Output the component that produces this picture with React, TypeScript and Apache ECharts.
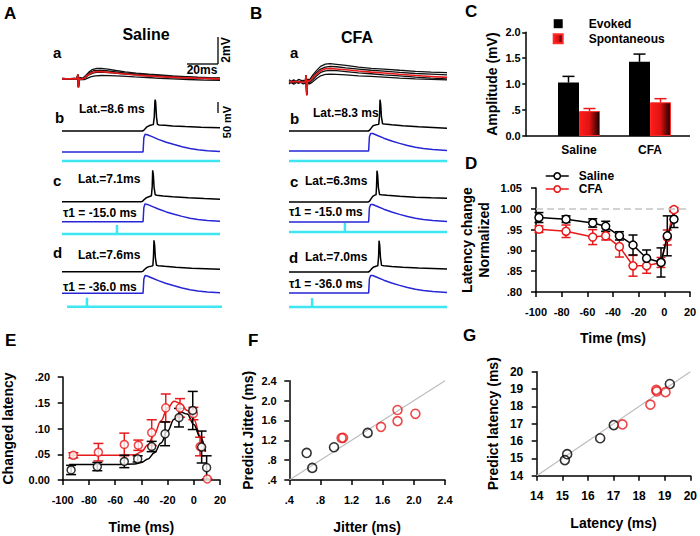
import React, { useEffect, useRef } from "react";
import * as echarts from "echarts";

const FONT = '"Liberation Sans", Arial, Helvetica, sans-serif';
const RED = "#e8191b";
const BLUE = "#2626d6";
const CYAN = "#3ee6f2";

// ---------- Panel C : amplitude ----------
const groupNames = ["Saline", "CFA"];
const evokedMean = [1.03, 1.43];
const evokedSem = [0.12, 0.15];
const spontMean = [0.48, 0.65];
const spontSem = [0.05, 0.07];

// ---------- Panel D : normalized latency change ----------
const dTime = [-97.7, -76.6, -55.8, -45.7, -35, -24.4, -13.8, -2.6, 2.3, 7.5];
const dSaline = [0.979, 0.975, 0.966, 0.958, 0.935, 0.913, 0.881, 0.871, 0.935, 0.975];
const dSalineErr = [0.012, 0.008, 0.01, 0.012, 0.01, 0.024, 0.02, 0.035, 0.048, 0.02];
const dCfa = [0.951, 0.946, 0.932, 0.935, 0.909, 0.863, 0.863, 0.871, 0.931, 0.998];
const dCfaErr = [0.008, 0.015, 0.018, 0.01, 0.025, 0.025, 0.018, 0.012, 0.018, 0.005];

// ---------- Panel E : changed latency ----------
const eTimeSaline = [-93.6, -73.6, -53, -42.8, -32.1, -21.9, -11.3, -0.8, 6, 9.8];
const eSaline = [0.0195, 0.026, 0.036, 0.041, 0.065, 0.0896, 0.121, 0.135, 0.064, 0.024];
const eSalineErr = [0.009, 0.008, 0.012, 0.006, 0.01, 0.023, 0.018, 0.037, 0.031, 0.023];
const eTimeCfa = [-91.9, -72.8, -53, -42.3, -32.1, -21.4, -10.5, -0.3, 4.8, 10.3];
const eCfa = [0.048, 0.054, 0.069, 0.0675, 0.092, 0.14, 0.14, 0.129, 0.065, 0.002];
const eCfaErr = [0.005, 0.017, 0.022, 0.01, 0.025, 0.027, 0.018, 0.012, 0.018, 0];
const eFitTimeSaline = [-95, -60, -45, -40, -35, -30, -25, -20, -15, -10, -5, 0, 5, 9];
const eFitSaline = [0.03, 0.03, 0.031, 0.034, 0.041, 0.053, 0.072, 0.095, 0.118, 0.132, 0.128, 0.108, 0.082, 0.055];
const eFitTimeCfa = [-95, -60, -45, -40, -35, -30, -25, -20, -15, -10, -5, 0, 5, 8.5];
const eFitCfa = [0.048, 0.048, 0.049, 0.055, 0.068, 0.09, 0.115, 0.14, 0.153, 0.148, 0.135, 0.118, 0.085, 0.055];

// ---------- Panel F : jitter ----------
const fJitterSaline = [0.623, 0.695, 0.974, 1.406];
const fPredSaline = [0.945, 0.644, 1.06, 1.349];
const fJitterCfa = [1.072, 1.09, 1.578, 1.79, 1.79, 2.02];
const fPredCfa = [1.246, 1.25, 1.47, 1.81, 1.586, 1.733];
const fIdentity = [0.4, 2.4];

// ---------- Panel G : latency ----------
const gLatSaline = [15.1, 15.19, 16.48, 17.01, 19.2];
const gPredSaline = [14.9, 15.24, 16.16, 16.92, 19.29];
const gLatCfa = [17.35, 18.44, 18.67, 18.69, 19.03];
const gPredCfa = [16.96, 18.1, 18.95, 18.86, 18.82];
const gIdentity = [14, 20];

// ---------- Panels A/B : traces, [time ms, value] ----------
// a rows : EPSPs (mV above baseline)
const salineEpspAvg = [[0,0],[9.5,0],[10,0.35],[10.4,-0.65],[10.9,0.05],[12,-0.05],[14,0.05],[16,0.25],[18,0.42],[21,0.53],[24,0.55],[28,0.5],[35,0.42],[45,0.3],[55,0.22],[65,0.15],[75,0.09],[85,0.05],[100,0]];
const salineEpsp1 = [[0,0.05],[4,0],[8,0.06],[9.5,0.02],[10,0.3],[10.4,-0.6],[11,0.1],[13,0.05],[15,0.25],[17,0.5],[19,0.68],[22,0.78],[25,0.78],[29,0.72],[34,0.62],[40,0.52],[47,0.43],[55,0.35],[62,0.3],[70,0.22],[78,0.17],[86,0.12],[93,0.09],[100,0.07]];
const salineEpsp2 = [[0,-0.04],[5,0.02],[9.5,-0.02],[10,0.32],[10.4,-0.62],[11,0.02],[13,-0.03],[15,0.1],[17,0.3],[20,0.45],[23,0.5],[27,0.48],[32,0.44],[40,0.36],[48,0.3],[56,0.2],[64,0.14],[72,0.1],[80,0.05],[90,0.02],[100,-0.03]];
const salineEpsp3 = [[0,0.02],[6,-0.03],[9.5,0],[10,0.3],[10.4,-0.6],[11,-0.04],[14,-0.06],[16,0.04],[18,0.14],[21,0.22],[25,0.25],[30,0.24],[38,0.2],[46,0.14],[54,0.1],[62,0.04],[70,0],[80,-0.05],[90,-0.1],[100,-0.12]];
const salineEpsp4 = [[0,-0.02],[9.5,0.01],[10,0.33],[10.4,-0.63],[11,0.06],[13,0],[15,0.18],[17,0.42],[20,0.6],[24,0.64],[28,0.6],[34,0.52],[42,0.4],[50,0.33],[58,0.27],[66,0.2],[76,0.14],[86,0.08],[100,0.04]];
const cfaEpspAvg = [[0,0],[4,0.03],[8,-0.02],[10.3,0],[10.8,0.5],[11.2,-1],[11.8,0.1],[13,0.05],[15,0.3],[17.5,0.6],[20,0.82],[23,0.97],[26,1],[30,0.96],[36,0.9],[44,0.8],[52,0.72],[60,0.66],[70,0.56],[80,0.47],[90,0.4],[100,0.33]];
const cfaEpsp1 = [[0,0.15],[3,-0.1],[6,0.18],[9,0.05],[10.3,0.1],[10.8,0.5],[11.2,-1],[11.8,0.2],[13,0.15],[15,0.5],[17.5,0.85],[20,1.15],[23,1.32],[26,1.35],[30,1.3],[36,1.22],[44,1.1],[52,1],[60,0.95],[70,0.86],[80,0.78],[90,0.72],[100,0.68]];
const cfaEpsp2 = [[0,-0.15],[3,0.1],[6,-0.12],[9,0.08],[10.3,-0.05],[10.8,0.45],[11.2,-0.95],[11.8,0],[13,-0.05],[15,0.15],[17.5,0.45],[20,0.7],[23,0.82],[26,0.85],[30,0.83],[36,0.76],[44,0.66],[52,0.6],[60,0.52],[70,0.44],[80,0.35],[90,0.28],[100,0.22]];
const cfaEpsp3 = [[0,0.05],[3,-0.18],[6,0.05],[9,-0.15],[10.3,-0.1],[10.8,0.4],[11.2,-0.9],[11.8,-0.1],[13,-0.15],[15,0],[17.5,0.25],[20,0.45],[23,0.55],[26,0.58],[30,0.56],[36,0.52],[44,0.45],[52,0.4],[60,0.35],[70,0.28],[80,0.22],[90,0.18],[100,0.15]];
const cfaEpsp4 = [[0,-0.05],[3,0.15],[6,-0.08],[9,0.12],[10.3,0.02],[10.8,0.5],[11.2,-1],[11.8,0.12],[13,0.08],[15,0.35],[17.5,0.7],[20,0.95],[23,1.1],[26,1.15],[30,1.12],[36,1.04],[44,0.95],[52,0.86],[60,0.8],[70,0.7],[80,0.62],[90,0.58],[100,0.52]];
// model membrane potential (mV)
const salineVmB = [[0,-70],[50.8,-70],[51.6,-68],[52.5,-62],[53.5,-54],[55,-48],[56.5,-45],[57.8,-43],[58.4,-10],[58.8,55],[59,63],[59.3,50],[59.8,-10],[60.4,-42],[61.5,-44.5],[65,-46],[70,-48.5],[78,-51.5],[88,-54],[100,-56]];
const salineVmC = [[0,-70],[50.2,-70],[51,-68],[52,-61],[53.5,-53],[55,-49],[56.6,-45],[57.1,-5],[57.4,63],[57.8,45],[58.3,-10],[59,-41],[60,-42.5],[64,-45.5],[70,-49],[80,-53.5],[90,-57],[100,-60]];
const salineVmD = [[0,-70],[50.4,-70],[51.2,-68],[52.2,-61],[53.6,-53],[55,-48.5],[56.5,-46.5],[57.5,-45],[57.9,-5],[58.2,63],[58.6,45],[59.1,-10],[59.8,-43],[61,-44.5],[65,-47],[72,-51],[82,-55],[100,-60]];
const cfaVmB = [[0,-70],[50.2,-70],[51,-67],[52,-58],[53.2,-48],[55,-44],[56.8,-42],[57.3,-5],[57.6,63],[58,45],[58.5,-10],[59.2,-39],[60.5,-40.5],[65,-43.5],[72,-48],[82,-52.5],[100,-58]];
const cfaVmC = [[0,-70],[50.2,-70],[51,-66],[52,-56],[53,-46],[54.3,-41],[55.1,-39],[55.4,-5],[55.7,63],[56.1,45],[56.6,-10],[57.3,-38],[58.5,-39],[62,-41.5],[70,-45.5],[80,-49.5],[90,-52],[100,-54]];
const cfaVmD = [[0,-70],[50.2,-70],[51,-67],[52,-59],[53.3,-50],[55,-45.5],[56.2,-44],[56.7,-5],[57,63],[57.4,45],[57.9,-10],[58.6,-42],[60,-43.5],[65,-46.5],[72,-50],[82,-53.5],[100,-57]];
// model synaptic input (normalized)
const salineInput = [[0,0],[51.3,0],[51.8,0.8],[52.6,1],[54,0.97],[57,0.86],[61,0.71],[66,0.55],[71,0.42],[76,0.3],[81,0.2],[86,0.13],[92,0.07],[100,0.03]];
const cfaInput = [[0,0],[50.4,0],[50.9,0.8],[51.7,0.98],[53,0.98],[56,0.87],[60,0.72],[65,0.56],[70,0.43],[75,0.31],[80,0.21],[85,0.14],[91,0.08],[100,0.03]];
// conditioning stimulus markers
const stimNone = [[0,0],[100,0]];
const salineStimC = [[0,0],[34.8,0],[34.8,1],[34.8,0],[100,0]];
const salineStimD = [[3.2,0],[15.8,0],[15.8,1],[15.8,0],[101.9,0]];
const cfaStimC = [[0,0],[35.4,0],[35.4,1],[35.4,0],[100,0]];
const cfaStimD = [[0,0],[14.6,0],[14.6,1],[14.6,0],[100,0]];

const lab = (size: number) => ({ fontFamily: FONT, fontWeight: "bold", fontSize: size, color: "#000" });
const strip = (d: number) => (v: number) => {
  let s = Number(v).toFixed(d);
  if (s.startsWith("0.") && Number(s) !== 0) s = s.slice(1);
  return s;
};
const pairs = (xs: number[], ys: number[]) => xs.map((x, i) => [x, ys[i]]);
const errRows = (xs: number[], ys: number[], es: number[]) => xs.map((x, i) => [x, ys[i] - es[i], ys[i] + es[i]]);

function errorSeries(gi: number, rows: number[][], color: string, cap: number, dx: number, lowCap: boolean, z = 2) {
  return {
    type: "custom",
    xAxisIndex: gi,
    yAxisIndex: gi,
    data: rows,
    silent: true,
    z,
    clip: false,
    renderItem: (_p: any, api: any) => {
      const x = api.value(0);
      const a = api.coord([x, api.value(1)]);
      const b = api.coord([x, api.value(2)]);
      const cx = a[0] + dx;
      const st = { stroke: color, lineWidth: 1.5 };
      const children: any[] = [
        { type: "line", shape: { x1: cx, y1: a[1], x2: cx, y2: b[1] }, style: st },
        { type: "line", shape: { x1: cx - cap, y1: b[1], x2: cx + cap, y2: b[1] }, style: st },
      ];
      if (lowCap) children.push({ type: "line", shape: { x1: cx - cap, y1: a[1], x2: cx + cap, y2: a[1] }, style: st });
      return { type: "group", children };
    },
  };
}

function buildOption() {
  const grids: any[] = [];
  const xAxes: any[] = [];
  const yAxes: any[] = [];
  const series: any[] = [];
  const add = (g: any, x: any, y: any) => {
    const i = grids.length;
    grids.push(g);
    xAxes.push({ ...x, gridIndex: i });
    yAxes.push({ ...y, gridIndex: i });
    return i;
  };
  const axLine = { show: true, onZero: false, lineStyle: { color: "#000", width: 1.5 } };
  const axTick = (len: number) => ({ show: true, length: len, lineStyle: { color: "#000", width: 1.5 } });
  const noSplit = { show: false };
  const valAxis = (min: number, max: number, interval: number, fmt: any, size: number, margin: number, name: string, gap: number, extraName: any = {}) => ({
    type: "value", min, max, interval, axisLine: axLine, axisTick: axTick(5), splitLine: noSplit,
    axisLabel: { ...lab(size), margin, formatter: fmt },
    name, nameLocation: "middle", nameGap: gap, nameTextStyle: { ...lab(14), ...extraName },
  });

  // ----- C -----
  const gC = add(
    { left: 543.5, top: 32.3, width: 142, height: 103.7 },
    { type: "category", data: groupNames, axisLine: { show: false }, axisTick: { show: false }, axisLabel: { ...lab(12), margin: 8 } },
    { type: "value", min: 0, max: 2, interval: 0.5, offset: 17.8, axisLine: axLine, axisTick: axTick(3.5), splitLine: noSplit,
      axisLabel: { ...lab(11), margin: 5, formatter: strip(1) },
      name: "Amplitude (mV)", nameLocation: "middle", nameGap: 27, nameTextStyle: lab(14) }
  );
  series.push({ type: "bar", name: "Evoked", xAxisIndex: gC, yAxisIndex: gC, data: evokedMean, barWidth: 21, barGap: "0%", itemStyle: { color: "#000" }, z: 2 });
  series.push({
    type: "bar", name: "Spontaneous", xAxisIndex: gC, yAxisIndex: gC, data: spontMean, barWidth: 21, barGap: "0%", z: 2,
    itemStyle: {
      color: new echarts.graphic.LinearGradient(0, 0, 1, 0, [
        { offset: 0, color: "#ff1c1c" },
        { offset: 0.5, color: "#e01212" },
        { offset: 1, color: "#1a0000" },
      ]),
      borderColor: "#ff2a2a", borderWidth: 1,
    },
  });
  series.push(errorSeries(gC, groupNames.map((_, i) => [i, evokedMean[i], evokedMean[i] + evokedSem[i]]), "#000", 6, -10.5, false, 3));
  series.push(errorSeries(gC, groupNames.map((_, i) => [i, spontMean[i], spontMean[i] + spontSem[i]]), RED, 6, 10.5, false, 3));

  // ----- D -----
  const gD = add(
    { left: 536, top: 188, width: 154, height: 104 },
    valAxis(-100, 20, 20, (v: number) => String(v), 11, 14, "Time (ms)", 39),
    valAxis(0.8, 1.05, 0.05, strip(2), 11, 14, "Latency change\nNormalized", 44, { lineHeight: 17 })
  );
  series.push(errorSeries(gD, errRows(dTime, dCfa, dCfaErr), RED, 4.5, 0, true, 2));
  series.push(errorSeries(gD, errRows(dTime, dSaline, dSalineErr), "#000", 4.5, 0, true, 2));
  series.push({
    type: "line", name: "CFA", xAxisIndex: gD, yAxisIndex: gD, data: pairs(dTime, dCfa), z: 4,
    symbol: "circle", symbolSize: 8, lineStyle: { color: RED, width: 1.5 },
    itemStyle: { color: "#fff", borderColor: RED, borderWidth: 1.5 },
  });
  series.push({
    type: "line", name: "Saline", xAxisIndex: gD, yAxisIndex: gD, data: pairs(dTime, dSaline), z: 5,
    symbol: "circle", symbolSize: 8, lineStyle: { color: "#000", width: 1.5 },
    itemStyle: { color: "#fff", borderColor: "#000", borderWidth: 1.5 },
    markLine: { silent: true, symbol: "none", label: { show: false }, lineStyle: { color: "#c4c4c4", type: [7, 4], width: 1.5 }, data: [{ yAxis: 1 }] },
  });

  // ----- E -----
  const gE = add(
    { left: 62.7, top: 377, width: 157.3, height: 103 },
    valAxis(-100, 20, 20, (v: number) => String(v), 11, 14, "Time (ms)", 40),
    valAxis(0, 0.2, 0.05, strip(2), 11, 12.7, "Changed latency", 47.7)
  );
  series.push({ type: "line", name: "CFA fit", xAxisIndex: gE, yAxisIndex: gE, data: pairs(eFitTimeCfa, eFitCfa), symbol: "none", smooth: 0.4, smoothMonotone: "x", lineStyle: { color: RED, width: 1.5 }, z: 1 });
  series.push({ type: "line", name: "Saline fit", xAxisIndex: gE, yAxisIndex: gE, data: pairs(eFitTimeSaline, eFitSaline), symbol: "none", smooth: 0.4, smoothMonotone: "x", lineStyle: { color: "#000", width: 1.5 }, z: 1 });
  series.push(errorSeries(gE, errRows(eTimeCfa, eCfa, eCfaErr), RED, 5, 0, true, 2));
  series.push(errorSeries(gE, errRows(eTimeSaline, eSaline, eSalineErr), "#000", 5, 0, true, 2));
  series.push({ type: "scatter", name: "CFA E", xAxisIndex: gE, yAxisIndex: gE, data: pairs(eTimeCfa, eCfa), symbol: "circle", symbolSize: 8, itemStyle: { color: "#fff", borderColor: RED, borderWidth: 1.5 }, z: 4 });
  series.push({ type: "scatter", name: "Saline E", xAxisIndex: gE, yAxisIndex: gE, data: pairs(eTimeSaline, eSaline), symbol: "circle", symbolSize: 8, itemStyle: { color: "#fff", borderColor: "#000", borderWidth: 1.5 }, z: 5 });

  // ----- F -----
  const gF = add(
    { left: 289.3, top: 380.7, width: 155.7, height: 99.3 },
    valAxis(0.4, 2.4, 0.4, strip(1), 11, 14, "Jitter (ms)", 40),
    valAxis(0.4, 2.4, 0.4, strip(1), 11, 12.6, "Predict Jitter (ms)", 34)
  );
  series.push({ type: "line", name: "F identity", xAxisIndex: gF, yAxisIndex: gF, data: pairs(fIdentity, fIdentity), symbol: "none", lineStyle: { color: "#bdbdbd", width: 1.2 }, z: 1 });
  series.push({ type: "scatter", name: "Saline F", xAxisIndex: gF, yAxisIndex: gF, data: pairs(fJitterSaline, fPredSaline), symbol: "circle", symbolSize: 9, itemStyle: { color: "rgba(255,255,255,0)", borderColor: "#000", borderWidth: 1.6 }, z: 3 });
  series.push({ type: "scatter", name: "CFA F", xAxisIndex: gF, yAxisIndex: gF, data: pairs(fJitterCfa, fPredCfa), symbol: "circle", symbolSize: 9, itemStyle: { color: "rgba(255,255,255,0)", borderColor: RED, borderWidth: 1.6 }, z: 3 });

  // ----- G -----
  const gG = add(
    { left: 536.7, top: 371.7, width: 155, height: 104 },
    valAxis(14, 20, 1, (v: number) => String(v), 12, 14, "Latency (ms)", 40),
    valAxis(14, 20, 1, (v: number) => String(v), 12, 13.4, "Predict latency (ms)", 36.7)
  );
  series.push({ type: "line", name: "G identity", xAxisIndex: gG, yAxisIndex: gG, data: pairs(gIdentity, gIdentity), symbol: "none", lineStyle: { color: "#bdbdbd", width: 1.2 }, z: 1 });
  series.push({ type: "scatter", name: "Saline G", xAxisIndex: gG, yAxisIndex: gG, data: pairs(gLatSaline, gPredSaline), symbol: "circle", symbolSize: 9, itemStyle: { color: "rgba(255,255,255,0)", borderColor: "#000", borderWidth: 1.6 }, z: 3 });
  series.push({ type: "scatter", name: "CFA G", xAxisIndex: gG, yAxisIndex: gG, data: pairs(gLatCfa, gPredCfa), symbol: "circle", symbolSize: 9, itemStyle: { color: "rgba(255,255,255,0)", borderColor: RED, borderWidth: 1.6 }, z: 3 });

  // ----- A / B traces -----
  let tn = 0;
  const traceGrid = (left: number, top: number, height: number, ymin: number, ymax: number) =>
    add({ left, top, width: 158, height }, { type: "value", min: 0, max: 100, show: false }, { type: "value", min: ymin, max: ymax, show: false });
  const trace = (gi: number, data: number[][], color: string, width: number, z = 2) =>
    series.push({ type: "line", name: "trace" + tn++, xAxisIndex: gi, yAxisIndex: gi, data, symbol: "none", lineStyle: { color, width }, clip: false, silent: true, z });

  const columns = [
    { left: 62, aTop: 60, epsp: [salineEpsp1, salineEpsp2, salineEpsp3, salineEpsp4], avg: salineEpspAvg,
      vm: [salineVmB, salineVmC, salineVmD], input: salineInput, stim: [stimNone, salineStimC, salineStimD],
      vmTop: [94.5, 165.2, 235.2], inTop: [130.6, 200.3, 271.9], stTop: [152, 225, 297.7] },
    { left: 289, aTop: 63, epsp: [cfaEpsp1, cfaEpsp2, cfaEpsp3, cfaEpsp4], avg: cfaEpspAvg,
      vm: [cfaVmB, cfaVmC, cfaVmD], input: cfaInput, stim: [stimNone, cfaStimC, cfaStimD],
      vmTop: [94.5, 165.5, 235.5], inTop: [129.6, 200.6, 271.6], stTop: [152, 223, 298] },
  ];
  columns.forEach((c) => {
    const ga = traceGrid(c.left, c.aTop, 35, -1.2, 1.4);
    c.epsp.forEach((d) => trace(ga, d, "#111", 1.3, 2));
    trace(ga, c.avg, RED, 1.6, 3);
    for (let r = 0; r < 3; r++) {
      const gv = traceGrid(c.left, c.vmTop[r], 40, -85, 85);
      trace(gv, c.vm[r], "#000", 1.5);
      const gi = traceGrid(c.left, c.inTop[r], 25, -0.2, 1.2);
      trace(gi, c.input, BLUE, 1.5);
      const gs = traceGrid(c.left, c.stTop[r], 9, 0, 1);
      trace(gs, c.stim[r], CYAN, 2.5);
    }
  });

  // ----- annotations -----
  const txt = (text: string, x: number, y: number, size: number, align = "left", rotation = 0) => ({
    type: "text", x, y, rotation, silent: true,
    style: { text, fill: "#000", font: `bold ${size}px ${FONT}`, textAlign: align, textVerticalAlign: "middle", align, verticalAlign: "middle" },
  });
  const seg = (x1: number, y1: number, x2: number, y2: number, w = 1.5) => ({
    type: "line", silent: true, shape: { x1, y1, x2, y2 }, style: { stroke: "#000", lineWidth: w },
  });
  const graphic: any[] = [
    txt("A", 4, 13, 17), txt("B", 250, 13, 17), txt("C", 465, 11, 17), txt("D", 465, 163, 17),
    txt("E", 5, 340, 17), txt("F", 248, 340, 17), txt("G", 463, 335, 17),
    txt("Saline", 146, 34, 16, "center"), txt("CFA", 357, 37, 16, "center"),
    txt("a", 53, 52, 15), txt("b", 55, 117, 15), txt("c", 53, 180, 15), txt("d", 53, 252, 15),
    txt("a", 290, 52, 15), txt("b", 290, 118, 15), txt("c", 290, 181, 15), txt("d", 289, 257, 15),
    txt("Lat.=8.6 ms", 79, 109, 12), txt("Lat.=7.1ms", 78, 179, 12), txt("Lat.=7.6ms", 78, 255, 12),
    txt("Lat.=8.3 ms", 313, 113, 12), txt("Lat.=6.3ms", 305, 181, 12), txt("Lat.=7.0ms", 305, 257, 12),
    txt("τ1 = -15.0 ms", 63, 213, 12), txt("τ1 = -36.0 ms", 63, 287, 12),
    txt("τ1 = -15.0 ms", 289, 212, 12), txt("τ1 = -36.0 ms", 289, 284, 12),
    seg(187, 64, 218, 64, 1.3), seg(218, 37, 218, 64, 1.3), txt("20ms", 202, 70, 12, "center"),
    txt("2mV", 226, 50, 12, "center", Math.PI / 2),
    seg(218, 102, 218, 113, 1.3), txt("50 mV", 227, 122, 11, "center", Math.PI / 2),
    seg(525.7, 136, 690, 136, 1.5),
  ];

  return {
    animation: false,
    backgroundColor: "#fff",
    textStyle: { fontFamily: FONT },
    grid: grids,
    xAxis: xAxes,
    yAxis: yAxes,
    legend: [
      { data: ["Evoked", "Spontaneous"], orient: "vertical", left: 547.7, top: 12.7, itemWidth: 9, itemHeight: 9, itemGap: 3, icon: "rect",
        selectedMode: false, textStyle: { ...lab(12), padding: [0, 0, 0, 21] } },
      { data: [
          { name: "Saline", itemStyle: { color: "#fff", borderColor: "#000", borderWidth: 1.5 }, lineStyle: { color: "#000", width: 1.5 } },
          { name: "CFA", itemStyle: { color: "#fff", borderColor: RED, borderWidth: 1.5 }, lineStyle: { color: RED, width: 1.5 } },
        ],
        orient: "vertical", left: 540, top: 165, itemWidth: 23, itemHeight: 8, itemGap: 1,
        selectedMode: false, textStyle: { ...lab(12), padding: [0, 0, 0, 5] } },
    ],
    series,
    graphic,
  };
}

export default function App() {
  const ref = useRef<HTMLDivElement>(null);
  useEffect(() => {
    document.body.style.margin = "0";
    const chart = echarts.init(ref.current as HTMLDivElement, null, { renderer: "svg" });
    chart.setOption(buildOption() as any);
    return () => chart.dispose();
  }, []);
  return <div ref={ref} style={{ width: 700, height: 536, background: "#fff" }} />;
}
